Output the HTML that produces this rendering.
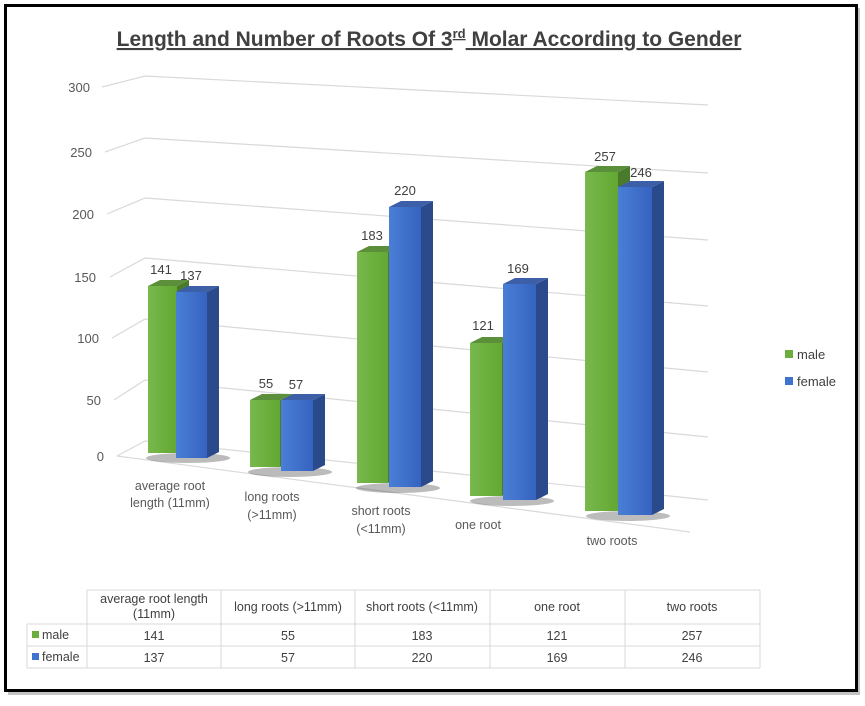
<!DOCTYPE html><html><head><style>body{margin:0;background:#fff}svg text{font-family:"Liberation Sans",sans-serif}</style></head><body>
<svg width="865" height="701" xmlns="http://www.w3.org/2000/svg">
<defs>
<linearGradient id="g" x1="0" x2="1"><stop offset="0" stop-color="#78b84c"/><stop offset="1" stop-color="#62a832"/></linearGradient>
<linearGradient id="b" x1="0" x2="1"><stop offset="0" stop-color="#4a7fd6"/><stop offset="1" stop-color="#3563c0"/></linearGradient>
</defs>
<rect x="8" y="8" width="852" height="687" fill="#888" opacity="0.5"/>
<rect x="5.5" y="5.5" width="851" height="685" fill="#fff" stroke="#000" stroke-width="3"/>
<text x="429" y="46" font-size="21" font-weight="bold" fill="#404040" text-anchor="middle" text-decoration="underline">Length and Number of Roots Of 3<tspan font-size="13" dy="-8">rd</tspan><tspan dy="8"> Molar According to Gender</tspan></text>
<g stroke="#d9d9d9" stroke-width="1.2" fill="none">
<polyline points="102,87 145,76 708,105"/>
<polyline points="105,152 145,138 708,173"/>
<polyline points="107,214 145,198 708,240"/>
<polyline points="110,277 145,258 708,306"/>
<polyline points="112,338 145,319 708,372"/>
<polyline points="114,400 145,380 708,437"/>
<polyline points="117,456 145,441 708,500"/>
<line x1="117" y1="456" x2="690" y2="532"/>
</g>
<g font-size="13" fill="#595959" text-anchor="end">
<text x="90" y="92">300</text><text x="92" y="157">250</text><text x="94" y="219">200</text><text x="96" y="282">150</text><text x="99" y="343">100</text><text x="101" y="405">50</text><text x="104" y="461">0</text>
</g>
<g fill="#222" opacity="0.3">
<ellipse cx="188" cy="458" rx="42" ry="5"/><ellipse cx="290" cy="472" rx="42" ry="5"/><ellipse cx="398" cy="488" rx="42" ry="5"/><ellipse cx="512" cy="501" rx="42" ry="5"/><ellipse cx="628" cy="516" rx="42" ry="5"/>
</g>
<g>
<polygon points="177,286 189,280 189,447 177,453" fill="#4a7a2c"/><polygon points="148,286 160,280 189,280 177,286" fill="#5c8f3a"/><rect x="148" y="286" width="29" height="167" fill="url(#g)"/>
<polygon points="207,292 219,286 219,452 207,458" fill="#2a4a8c"/><polygon points="176,292 188,286 219,286 207,292" fill="#3d5fa8"/><rect x="176" y="292" width="31" height="166" fill="url(#b)"/>
<polygon points="280,400 292,394 292,461 280,467" fill="#4a7a2c"/><polygon points="250,400 262,394 292,394 280,400" fill="#5c8f3a"/><rect x="250" y="400" width="30" height="67" fill="url(#g)"/>
<polygon points="313,400 325,394 325,465 313,471" fill="#2a4a8c"/><polygon points="281,400 293,394 325,394 313,400" fill="#3d5fa8"/><rect x="281" y="400" width="32" height="71" fill="url(#b)"/>
<polygon points="388,252 400,246 400,477 388,483" fill="#4a7a2c"/><polygon points="357,252 369,246 400,246 388,252" fill="#5c8f3a"/><rect x="357" y="252" width="31" height="231" fill="url(#g)"/>
<polygon points="421,207 433,201 433,481 421,487" fill="#2a4a8c"/><polygon points="389,207 401,201 433,201 421,207" fill="#3d5fa8"/><rect x="389" y="207" width="32" height="280" fill="url(#b)"/>
<polygon points="502,343 514,337 514,490 502,496" fill="#4a7a2c"/><polygon points="470,343 482,337 514,337 502,343" fill="#5c8f3a"/><rect x="470" y="343" width="32" height="153" fill="url(#g)"/>
<polygon points="536,284 548,278 548,494 536,500" fill="#2a4a8c"/><polygon points="503,284 515,278 548,278 536,284" fill="#3d5fa8"/><rect x="503" y="284" width="33" height="216" fill="url(#b)"/>
<polygon points="618,172 630,166 630,505 618,511" fill="#4a7a2c"/><polygon points="585,172 597,166 630,166 618,172" fill="#5c8f3a"/><rect x="585" y="172" width="33" height="339" fill="url(#g)"/>
<polygon points="652,187 664,181 664,509 652,515" fill="#2a4a8c"/><polygon points="618,187 630,181 664,181 652,187" fill="#3d5fa8"/><rect x="618" y="187" width="34" height="328" fill="url(#b)"/>
</g>
<g font-size="13" fill="#404040" text-anchor="middle">
<text x="161" y="274">141</text><text x="191" y="280">137</text><text x="266" y="388">55</text><text x="296" y="389">57</text><text x="372" y="240">183</text><text x="405" y="195">220</text><text x="483" y="330">121</text><text x="518" y="273">169</text><text x="605" y="161">257</text><text x="641" y="177">246</text>
</g>
<g font-size="12.5" fill="#595959" text-anchor="middle">
<text x="170" y="490">average root</text><text x="170" y="507">length (11mm)</text>
<text x="272" y="501">long roots</text><text x="272" y="519">(&gt;11mm)</text>
<text x="381" y="515">short roots</text><text x="381" y="533">(&lt;11mm)</text>
<text x="478" y="529">one root</text>
<text x="612" y="545">two roots</text>
</g>
<rect x="785" y="350" width="8" height="8" fill="#6aaf3c"/><text x="797" y="359" font-size="13" fill="#404040">male</text>
<rect x="785" y="377" width="8" height="8" fill="#4072d0"/><text x="797" y="386" font-size="13" fill="#404040">female</text>
<g stroke="#d9d9d9" stroke-width="1" fill="none">
<line x1="87" y1="590" x2="760" y2="590"/><line x1="27" y1="624" x2="760" y2="624"/><line x1="27" y1="646" x2="760" y2="646"/><line x1="27" y1="668" x2="760" y2="668"/>
<line x1="27" y1="624" x2="27" y2="668"/><line x1="87" y1="590" x2="87" y2="668"/><line x1="221" y1="590" x2="221" y2="668"/><line x1="355" y1="590" x2="355" y2="668"/><line x1="490" y1="590" x2="490" y2="668"/><line x1="625" y1="590" x2="625" y2="668"/><line x1="760" y1="590" x2="760" y2="668"/>
</g>
<g font-size="12.5" fill="#404040" text-anchor="middle">
<text x="154" y="603">average root length</text><text x="154" y="618">(11mm)</text>
<text x="288" y="611">long roots (&gt;11mm)</text><text x="422" y="611">short roots (&lt;11mm)</text><text x="557" y="611">one root</text><text x="692" y="611">two roots</text>
<text x="154" y="640">141</text><text x="288" y="640">55</text><text x="422" y="640">183</text><text x="557" y="640">121</text><text x="692" y="640">257</text>
<text x="154" y="662">137</text><text x="288" y="662">57</text><text x="422" y="662">220</text><text x="557" y="662">169</text><text x="692" y="662">246</text>
</g>
<rect x="32" y="631" width="7" height="7" fill="#6aaf3c"/><text x="42" y="639" font-size="12.5" fill="#404040">male</text>
<rect x="32" y="653" width="7" height="7" fill="#4072d0"/><text x="42" y="661" font-size="12.5" fill="#404040">female</text>
</svg>
</body></html>
